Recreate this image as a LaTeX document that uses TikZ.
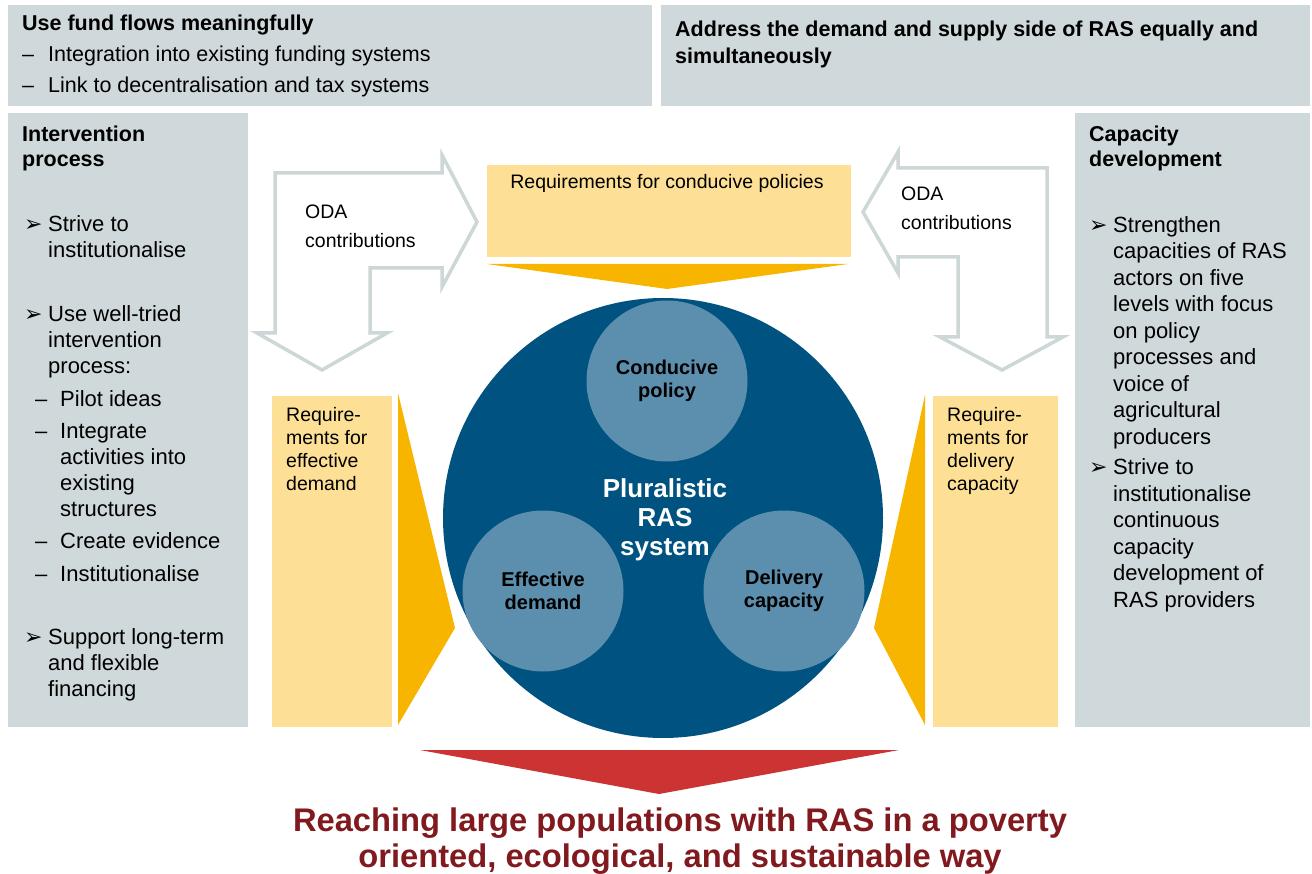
\documentclass[tikz,border=0pt]{standalone}
\usepackage{fontspec}
\setmainfont{Liberation Sans}
\newfontfamily\dejavu{DejaVu Sans}
\definecolor{boxgrey}{RGB}{207,216,218}
\definecolor{reqyellow}{RGB}{253,224,150}
\definecolor{pushyellow}{RGB}{248,181,0}
\definecolor{rasblue}{RGB}{0,82,128}
\definecolor{partblue}{RGB}{91,143,173}
\definecolor{goalred}{RGB}{204,51,51}
\definecolor{goaltext}{RGB}{128,26,30}
\definecolor{odagrey}{RGB}{205,215,215}
\newcommand{\tipbul}{\makebox[24pt][l]{\fontsize{22}{22}\dejavu\char"27A2}}
\newcommand{\subdash}{\makebox[25pt][l]{\textendash}}
\newcommand{\bulind}{\hspace*{24pt}}
\begin{document}
\begin{tikzpicture}[x=1pt,y=-1pt,
    coltext/.style={anchor=base west,inner sep=0pt,align=left,font=\fontsize{22}{26}\selectfont},
    righttext/.style={coltext,font=\fontsize{22}{26.5}\selectfont},
    headtext/.style={coltext,font=\fontsize{21.5}{25.5}\selectfont\bfseries},
    toptext/.style={anchor=base west,inner sep=0pt,align=left,font=\fontsize{21.5}{31}\selectfont},
    reqtext/.style={anchor=base west,inner sep=0pt,align=left,font=\fontsize{19.5}{23}\selectfont},
    odatext/.style={anchor=base west,inner sep=0pt,align=left,font=\fontsize{19.5}{29}\selectfont},
    odaarrow/.style={draw=odagrey,line width=3.5pt,fill=white,line join=miter},
    part/.style={circle,fill=partblue,minimum size=161pt,inner sep=0pt,align=center,font=\fontsize{20}{23}\selectfont\bfseries}]
\useasboundingbox (0,0) rectangle (1312,874);
% grey frame boxes (multi-line nodes sit on the baseline of their last line)
\fill[boxgrey] (8,5) rectangle (652,106);
\fill[boxgrey] (661,5) rectangle (1310,106);
\fill[boxgrey] (8,113) rectangle (248,727);
\fill[boxgrey] (1075,113) rectangle (1310,727);
\node[toptext] (fund) at (22,93) {\bfseries Use fund flows meaningfully\\
  \makebox[26pt][l]{\textendash}Integration into existing funding systems\\
  \makebox[26pt][l]{\textendash}Link to decentralisation and tax systems};
\node[toptext,font=\fontsize{21.5}{27}\selectfont\bfseries] (sides) at (675,64) {Address the demand and supply side of RAS equally and\\simultaneously};
% left column
\node[headtext] (ihead) at (22,167) {Intervention\\process};
\node[coltext] (istrive) at (24,258) {\tipbul Strive to\\\bulind institutionalise};
\node[coltext] (iuse) at (24,374) {\tipbul Use well-tried\\\bulind intervention\\\bulind process:};
\node[coltext] (isteps) at (35,581) {\subdash Pilot ideas\\[6pt]
  \subdash Integrate\\\hspace*{25pt}activities into\\\hspace*{25pt}existing\\\hspace*{25pt}structures\\[6pt]
  \subdash Create evidence\\[7pt]
  \subdash Institutionalise};
\node[coltext] (isupport) at (24,696) {\tipbul Support long-term\\\bulind and flexible\\\bulind financing};
% right column
\node[headtext] (chead) at (1089,167) {Capacity\\development};
\node[righttext] (cstrengthen) at (1089,444) {\tipbul Strengthen\\\bulind capacities of RAS\\\bulind actors on five\\
  \bulind levels with focus\\\bulind on policy\\\bulind processes and\\\bulind voice of\\\bulind agricultural\\\bulind producers};
\node[righttext] (cstrive) at (1089,607) {\tipbul Strive to\\\bulind institutionalise\\\bulind continuous\\
  \bulind capacity\\\bulind development of\\\bulind RAS providers};
% ODA arrows
\draw[odaarrow] (275,173) -- (442,173) -- (442,155) -- (477,222) -- (442,287) -- (442,268) -- (370,268)
  -- (370,333) -- (387,333) -- (322,370) -- (257,333) -- (275,333) -- cycle;
\draw[odaarrow] (1047,168) -- (898,168) -- (898,152) -- (863,212) -- (898,273) -- (898,257) -- (958,257)
  -- (958,337) -- (940,337) -- (1002,370) -- (1063,337) -- (1047,337) -- cycle;
\node[odatext] (odaleft) at (305,248) {ODA\\contributions};
\node[odatext] (odaright) at (901,230) {ODA\\contributions};
% requirement boxes
\fill[reqyellow] (487,165) rectangle (851,257);
\fill[pushyellow] (487,264) -- (848,264) -- (667,289) -- cycle;
\node[reqtext,anchor=base] (reqpolicy) at (667,189) {Requirements for conducive policies};
\fill[reqyellow] (272,396) rectangle (392,727);
\fill[pushyellow] (398,393) -- (455,628) -- (398,725) -- cycle;
\node[reqtext] (reqdemand) at (286,490) {Require-\\ments for\\effective\\demand};
\fill[reqyellow] (933,396) rectangle (1058,727);
\fill[pushyellow] (925,395) -- (874,628) -- (925,725) -- cycle;
\node[reqtext] (reqdelivery) at (947,490) {Require-\\ments for\\delivery\\capacity};
% RAS system
\node[circle,fill=rasblue,minimum size=440pt,inner sep=0pt] (ras) at (663,518) {};
\node[part] (policy) at (667,381) {Conducive\\policy};
\node[part] (demand) at (543,591) {Effective\\demand};
\node[part] (delivery) at (784,591) {Delivery\\capacity};
\node[align=center,text=white,font=\fontsize{26}{29}\selectfont\bfseries] (rastext) at (665,520) {Pluralistic\\RAS\\system};
% goal
\fill[goalred] (420,750) -- (899,750) -- (659,794) -- cycle;
\node[anchor=base,align=center,text=goaltext,inner sep=0pt,font=\fontsize{32.7}{36}\selectfont\bfseries] (goal) at (680,867)
  {Reaching large populations with RAS in a poverty\\oriented, ecological, and sustainable way};
\end{tikzpicture}
\end{document}
